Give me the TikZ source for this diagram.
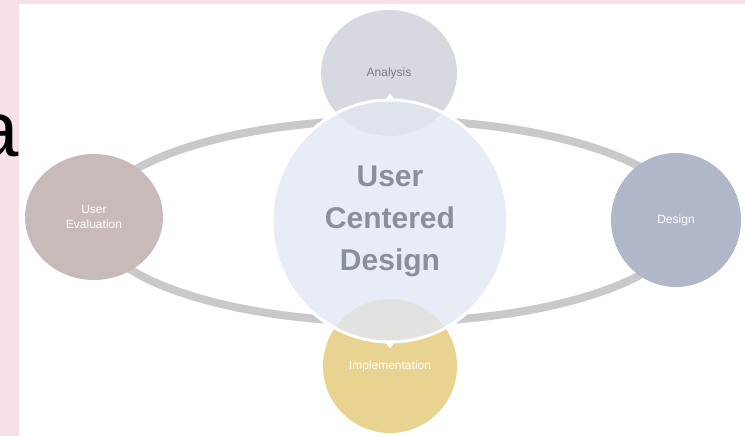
\documentclass[tikz,border=0pt]{standalone}
\usepackage{fontspec}
\setmainfont{Liberation Sans}
\usetikzlibrary{shapes.geometric}

\definecolor{bgpink}{RGB}{248,225,228}
\definecolor{anagray}{RGB}{214,217,224}
\definecolor{evalmauve}{RGB}{201,186,186}
\definecolor{designblue}{RGB}{176,183,200}
\definecolor{implgold}{RGB}{233,211,144}
\definecolor{ucdblue}{RGB}{231,236,247}
\definecolor{ringgray}{RGB}{201,201,201}
\definecolor{ucdtext}{RGB}{137,143,155}
\definecolor{anatext}{RGB}{120,124,134}

\begin{document}
\begin{tikzpicture}[x=1pt,y=-1pt,
		phase/.style={shape=ellipse,inner sep=0pt,align=center,text=white,font=\fontsize{12}{15}\selectfont},
		ring/.style={draw=ringgray,line width=8pt}]
			\useasboundingbox (0,0) rectangle (745,436);
			\fill[bgpink] (0,0) rectangle (745,436);
			\fill[white] (19,4) rectangle (745,436);
			\node[anchor=base east,inner sep=0pt,font=\fontsize{78}{78}\selectfont] (letter) at (19,157) {a};
			
			\coordinate (mid) at (390,221);
			\draw[ring] (mid) ellipse (296 and 101);
			
			\node[phase,fill=anagray,minimum width=136pt,minimum height=126pt,text=anatext] (analysis) at (389,73) {Analysis};
			\node[phase,fill=evalmauve,minimum width=138pt,minimum height=126pt] (evaluation) at (94,217) {User\\Evaluation};
			\node[phase,fill=designblue,minimum width=130pt,minimum height=134pt] (design) at (676,220) {Design};
			\node[phase,fill=implgold,minimum width=134pt,minimum height=134pt] (implement) at (390,366) {Implementation};
			
			\node[shape=ellipse,fill=ucdblue,draw=white,line width=3pt,minimum width=236pt,minimum height=242pt,
				align=center,text=ucdtext,font=\bfseries\fontsize{30}{42}\selectfont] (ucd) at (mid) {User\\Centered\\Design};
			
			\begin{scope}
				\clip (mid) ellipse (116.5 and 119.5);
				\fill[anagray,fill opacity=0.45] (analysis.center) ellipse (68 and 63);
				\fill[implgold!35!anagray,fill opacity=0.45] (implement.center) ellipse (67 and 67);
			\end{scope}
			
			\fill[white] (ucd.north) ++(-6,3) -- ++(6,-8) -- ++(6,8) -- cycle;
			\fill[white] (ucd.south) ++(-6,-3) -- ++(6,8) -- ++(6,-8) -- cycle;
		\end{tikzpicture}
\end{document}
